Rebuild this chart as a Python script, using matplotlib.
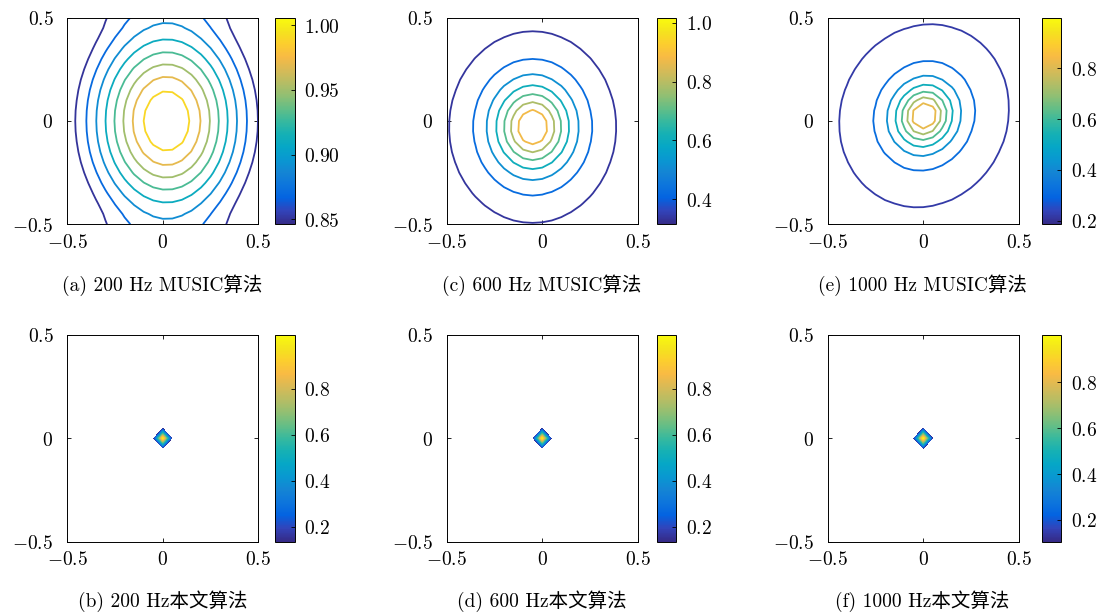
import numpy as np
import matplotlib
matplotlib.use('Agg')
import matplotlib.pyplot as plt
import matplotlib.cm as cm
from matplotlib.colors import LinearSegmentedColormap, Normalize

plt.rcParams['mathtext.fontset'] = 'cm'
plt.rcParams['font.size'] = 14

# MATLAB parula, every 4th entry of the 64-colour table
parula = LinearSegmentedColormap.from_list('parula', [
    (0.2081, 0.1663, 0.5292), (0.1959, 0.2645, 0.7279), (0.0117, 0.3875, 0.8820),
    (0.0498, 0.4586, 0.8641), (0.0793, 0.5200, 0.8312), (0.0343, 0.5966, 0.8199),
    (0.0228, 0.6535, 0.7768), (0.0843, 0.6928, 0.7062), (0.2178, 0.7250, 0.6193),
    (0.3953, 0.7459, 0.5244), (0.5709, 0.7485, 0.4494), (0.7184, 0.7411, 0.3905),
    (0.8507, 0.7299, 0.3360), (0.9739, 0.7314, 0.2666), (0.9880, 0.8066, 0.1794),
    (0.9589, 0.8949, 0.1132), (0.9763, 0.9831, 0.0538)])

# scan grid
grid_step = 0.05
grid = np.arange(-0.5, 0.5 + 1e-9, grid_step)
X, Y = np.meshgrid(grid, grid)

# ---- MUSIC spectra (top row), parameters ----
music_captions = ['(a) 200 Hz MUSIC算法', '(c) 600 Hz MUSIC算法', '(e) 1000 Hz MUSIC算法']
music_floor = [0.6973, 0.205, 0.15]
music_amp = [0.312, 0.78, 0.82]
music_width_x = [0.468, 0.195, 0.135]
music_width_y = [0.565, 0.207, 0.135]
music_center_x = [0.02, -0.05, 0.005]
music_center_y = [0.0, -0.03, 0.025]
music_shear = [0.0, 0.0, 0.08]
music_edge = [0.0127, 0.0, 0.0]   # sidelobe rise toward y = +-0.5
music_levels = [
    [0.85, 0.87, 0.89, 0.91, 0.93, 0.95, 0.97, 0.99],
    [0.335, 0.425, 0.515, 0.605, 0.695, 0.785, 0.875],
    [0.22, 0.32, 0.42, 0.52, 0.62, 0.72, 0.82],
]
music_clim = [(0.846, 1.006), (0.315, 1.017), (0.187, 0.998)]
music_cticks = [[0.85, 0.90, 0.95, 1.00], [0.4, 0.6, 0.8, 1.0], [0.2, 0.4, 0.6, 0.8]]
music_cfmt = ['$%.2f$', '$%.1f$', '$%.1f$']

# ---- proposed method (bottom row) ----
prop_captions = ['(b) 200 Hz本文算法', '(d) 600 Hz本文算法', '(f) 1000 Hz本文算法']
source_x = [0.0, 0.0, 0.0]
source_y = [0.0, 0.0, 0.0]
prop_peak = [1.0, 1.0, 1.0]
prop_background = [0.08, 0.08, 0.08]
prop_clim = [(0.137, 1.033), (0.137, 1.033), (0.106, 1.007)]
prop_cticks = [0.2, 0.4, 0.6, 0.8]

# layout in pixels
W, H = 1104, 613
col_x = [67.3, 446.7, 827.7]
cbar_x = [275.0, 656.7, 1041.7]
ax_w, ax_h = 191.0, 206.5
cb_w = 19.5
row_top = [17.7, 335.0]
caption_y = [285, 601]
caption_x = [162.5, 541.5, 922.5]

fig = plt.figure(figsize=(W / 100, H / 100), dpi=100)


def style_axes(ax):
    ax.set_xlim(-0.5, 0.5)
    ax.set_ylim(-0.5, 0.5)
    ax.set_xticks([-0.5, 0, 0.5])
    ax.set_yticks([-0.5, 0, 0.5])
    ax.set_xticklabels([r'$-0.5$', r'$0$', r'$0.5$'])
    ax.set_yticklabels([r'$-0.5$', r'$0$', r'$0.5$'])
    ax.tick_params(direction='in', length=3, width=0.6, top=True, right=True)
    ax.tick_params(axis='x', pad=6)
    ax.tick_params(axis='y', pad=10)
    for s in ax.spines.values():
        s.set_linewidth(0.7)


def add_cbar(i, row, clim, ticks, fmt):
    cax = fig.add_axes([cbar_x[i] / W, 1 - (row_top[row] + ax_h) / H, cb_w / W, ax_h / H])
    sm = cm.ScalarMappable(norm=Normalize(*clim), cmap=parula)
    cb = fig.colorbar(sm, cax=cax)
    cb.set_ticks(ticks)
    cb.set_ticklabels([fmt % t for t in ticks])
    cb.outline.set_linewidth(0.7)
    cax.tick_params(direction='in', length=3, width=0.6, pad=7)


for i in range(3):
    # top row: MUSIC
    ax = fig.add_axes([col_x[i] / W, 1 - (row_top[0] + ax_h) / H, ax_w / W, ax_h / H])
    dy = Y - music_center_y[i]
    dx = X - music_center_x[i] - music_shear[i] * dy
    u2 = (dx / music_width_x[i]) ** 2 + (dy / music_width_y[i]) ** 2
    Z = music_floor[i] + music_amp[i] / (1 + u2) + music_edge[i] * (np.abs(Y) / 0.5) ** 6
    ax.contour(X, Y, Z, levels=music_levels[i], cmap=parula,
               norm=Normalize(*music_clim[i]), linewidths=1.3)
    style_axes(ax)
    add_cbar(i, 0, music_clim[i], music_cticks[i], music_cfmt[i])
    fig.text(caption_x[i] / W, 1 - caption_y[0] / H, music_captions[i],
             ha='center', va='center', family=['cmr10', 'Noto Sans CJK SC'], fontsize=14)

    # bottom row: proposed method
    ax = fig.add_axes([col_x[i] / W, 1 - (row_top[1] + ax_h) / H, ax_w / W, ax_h / H])
    Z = np.full_like(X, prop_background[i])
    hit = np.isclose(X, source_x[i]) & np.isclose(Y, source_y[i])
    Z[hit] = prop_peak[i]
    lv = np.linspace(prop_clim[i][0], prop_clim[i][1], 40)
    ax.contourf(X, Y, Z, levels=lv, cmap=parula, norm=Normalize(*prop_clim[i]))
    style_axes(ax)
    add_cbar(i, 1, prop_clim[i], prop_cticks, '$%.1f$')
    fig.text(caption_x[i] / W, 1 - caption_y[1] / H, prop_captions[i],
             ha='center', va='center', family=['cmr10', 'Noto Sans CJK SC'], fontsize=14)

fig.savefig('out.png', dpi=100)
